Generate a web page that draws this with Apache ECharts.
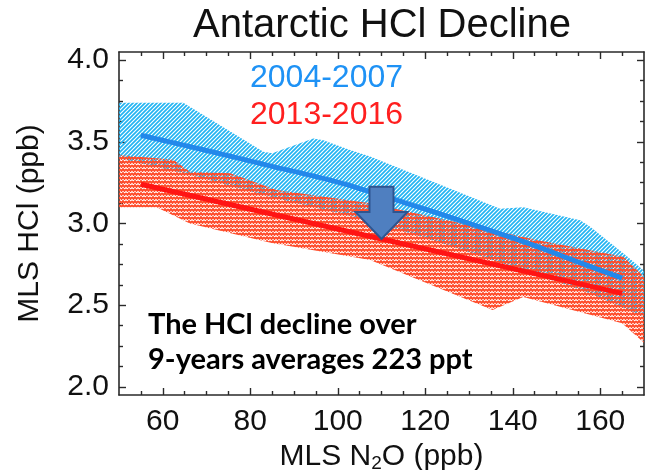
<!DOCTYPE html>
<html><head><meta charset="utf-8">
<script src="https://cdn.jsdelivr.net/npm/echarts@6/dist/echarts.min.js"></script>
<style>html,body{margin:0;padding:0;background:#fff}#c{width:645px;height:470px}</style>
</head><body><div id="c"></div>
<script>
// ---- data ----
const titleText = 'Antarctic HCl Decline';
const seriesNames = ['2004-2007', '2013-2016'];
const noteLines = ['The HCl decline over', '9-years averages 223 ppt'];
const xTicks = [60, 80, 100, 120, 140, 160];
const xMinorTicks = [55, 65, 70, 75, 85, 90, 95, 105, 110, 115, 125, 130, 135, 145, 150, 155, 165];
const yTicks = [2.0, 2.5, 3.0, 3.5, 4.0];
const yMinorTicks = [2.125, 2.25, 2.375, 2.625, 2.75, 2.875, 3.125, 3.25, 3.375, 3.625, 3.75, 3.875];

// 2004-2007 mean line and range
const blueLineX = [55, 70, 85, 100, 115, 130, 145, 155, 165];
const blueLineY = [3.54, 3.447, 3.35, 3.253, 3.13, 3.001, 2.865, 2.763, 2.665];
const blueUpX = [50, 64.7, 83, 85, 94.4, 96.7, 102.8, 107.4, 137.1, 142.4, 155.4, 157.7, 166.1, 170];
const blueUpY = [3.74, 3.74, 3.44, 3.43, 3.52, 3.51, 3.45, 3.41, 3.09, 3.10, 3.02, 2.98, 2.80, 2.71];
const blueLoX = [50, 66, 85, 107, 126, 156, 170];
const blueLoY = [3.40, 3.30, 3.16, 3.02, 2.86, 2.59, 2.43];

// 2013-2016 mean line and range
const redLineX = [55, 110, 165];
const redLineY = [3.24, 2.905, 2.572];
const redUpX = [50, 62.4, 66.2, 75.4, 86.0, 107.4, 145.5, 165.3, 170];
const redUpY = [3.42, 3.39, 3.317, 3.307, 3.205, 3.124, 2.899, 2.797, 2.674];
const redLoX = [50, 58.6, 66.2, 84.9, 107.4, 135.4, 142.4, 165, 170];
const redLoY = [3.10, 3.10, 3.00, 2.88, 2.776, 2.47, 2.55, 2.39, 2.27];

// decline arrow
const arrowX = [110];
const arrowFrom = [3.225];
const arrowHeadBase = [3.07];
const arrowTo = [2.905];

// ---- patterns ----
function makePattern(kind) {
  const c = document.createElement('canvas');
  const g = c.getContext('2d');
  if (kind === 'blue') {
    c.width = 4; c.height = 4;
    g.strokeStyle = '#22b4f2'; g.lineWidth = 1.7;
    g.beginPath();
    g.moveTo(-1, 5); g.lineTo(5, -1);
    g.moveTo(-1, 1); g.lineTo(1, -1);
    g.moveTo(3, 5); g.lineTo(5, 3);
    g.stroke();
  } else {
    c.width = 6; c.height = 4;
    g.strokeStyle = '#ff4a28'; g.lineWidth = 1.9;
    g.beginPath();
    g.moveTo(0, 1); g.lineTo(1.5, 3); g.lineTo(3, 1); g.lineTo(4.5, 3); g.lineTo(6, 1);
    g.stroke();
  }
  return {image: c, repeat: 'repeat'};
}
const bluePat = makePattern('blue');
const redPat = makePattern('red');

function zip(a, b) { return a.map((v, i) => [v, b[i]]); }

function band(name, ux, uy, lx, ly, pat, z) {
  return {
    type: 'custom', name: name, z: z, clip: true, silent: true,
    xAxisIndex: 0, yAxisIndex: 0,
    data: [[ux[0], uy[0]]],
    renderItem: function (params, api) {
      const pts = [];
      for (let i = 0; i < ux.length; i++) pts.push(api.coord([ux[i], uy[i]]));
      for (let i = lx.length - 1; i >= 0; i--) pts.push(api.coord([lx[i], ly[i]]));
      return {type: 'polygon', shape: {points: pts}, style: {fill: pat, stroke: null}};
    }
  };
}

const axisCol = '#2a2a2a';
const font = 'Liberation Sans, Arial, sans-serif';
function xAx(pos, ticks, len, main) {
  return {
    type: 'value', position: pos, min: 50, max: 170, gridIndex: 0,
    axisLine: {show: main, onZero: false, lineStyle: {color: axisCol, width: 1.6}},
    axisTick: {show: true, inside: true, length: len, customValues: ticks, lineStyle: {color: axisCol, width: 1.4}},
    axisLabel: {show: main && pos === 'bottom', customValues: xTicks, fontFamily: font, fontSize: 30, color: '#111', margin: 12},
    splitLine: {show: false}
  };
}
function yAx(pos, ticks, len, main) {
  return {
    type: 'value', position: pos, min: 1.95, max: 4.05, gridIndex: 0,
    axisLine: {show: main, onZero: false, lineStyle: {color: axisCol, width: 1.6}},
    axisTick: {show: true, inside: true, length: len, customValues: ticks, lineStyle: {color: axisCol, width: 1.4}},
    axisLabel: {show: main && pos === 'left', customValues: yTicks, fontFamily: font, fontSize: 30, color: '#111', margin: 10,
      formatter: v => v.toFixed(1)},
    splitLine: {show: false}
  };
}

const xAxes = [xAx('bottom', xTicks, 7, true), xAx('bottom', xMinorTicks, 4, false), xAx('top', xTicks, 7, true), xAx('top', xMinorTicks, 4, false)];
xAxes[0].name = '{a|MLS N}{s|2}{a|O (ppb)}';
xAxes[0].nameLocation = 'middle';
xAxes[0].nameGap = 42;
xAxes[0].nameTextStyle = {rich: {a: {fontFamily: font, fontSize: 30, color: '#111'}, s: {fontFamily: font, fontSize: 19, color: '#111', padding: [14, 0, 0, 0]}}};
const yAxes = [yAx('left', yTicks, 7, true), yAx('left', yMinorTicks, 4, false), yAx('right', yTicks, 7, true), yAx('right', yMinorTicks, 4, false)];
yAxes[0].name = 'MLS HCl (ppb)';
yAxes[0].nameLocation = 'middle';
yAxes[0].nameRotate = 90;
yAxes[0].nameGap = 74;
yAxes[0].nameTextStyle = {fontFamily: font, fontSize: 30, color: '#111'};

const chart = echarts.init(document.getElementById('c'), null, {renderer: 'canvas'});
chart.setOption({
  animation: false,
  backgroundColor: '#fff',
  grid: {left: 119, right: 1, top: 52, bottom: 75, containLabel: false, outerBoundsMode: 'none'},
  xAxis: xAxes,
  yAxis: yAxes,
  graphic: [
    {type: 'text', x: 382, y: 26, style: {text: titleText, font: '40px ' + font, fill: '#111', textAlign: 'center', textVerticalAlign: 'middle'}},
    {type: 'text', x: 250, y: 78, z: 10, style: {text: seriesNames[0], font: '32px ' + font, fill: '#1e92f5', textAlign: 'left', textVerticalAlign: 'middle'}},
    {type: 'text', x: 250, y: 115, z: 10, style: {text: seriesNames[1], font: '32px ' + font, fill: '#ff1f1f', textAlign: 'left', textVerticalAlign: 'middle'}},
    {type: 'text', x: 148, y: 325, z: 10, style: {text: noteLines[0], font: 'bold 29px Lato, sans-serif', fill: '#000', textAlign: 'left', textVerticalAlign: 'middle'}},
    {type: 'text', x: 148, y: 360, z: 10, style: {text: noteLines[1], font: 'bold 29px Lato, sans-serif', fill: '#000', textAlign: 'left', textVerticalAlign: 'middle'}}
  ],
  series: [
    band(seriesNames[0] + ' range', blueUpX, blueUpY, blueLoX, blueLoY, bluePat, 1),
    band(seriesNames[1] + ' range', redUpX, redUpY, redLoX, redLoY, redPat, 2),
    {type: 'line', name: seriesNames[0], z: 3, data: zip(blueLineX, blueLineY), showSymbol: false, smooth: 0.3,
      lineStyle: {color: '#2388ea', width: 5}, silent: true},
    {type: 'line', name: seriesNames[1], z: 4, data: zip(redLineX, redLineY), showSymbol: false,
      lineStyle: {color: '#ff1414', width: 5}, silent: true},
    {type: 'custom', name: 'decline', z: 5, silent: true,
      data: [[arrowX[0], arrowFrom[0], arrowHeadBase[0], arrowTo[0]]],
      renderItem: function (params, api) {
        const x = api.value(0);
        const top = api.coord([x, api.value(1)]);
        const base = api.coord([x, api.value(2)]);
        const tip = api.coord([x, api.value(3)]);
        const sw = 12, hw = 26;
        const pts = [[top[0] - sw, top[1]], [top[0] + sw, top[1]], [top[0] + sw, base[1]], [top[0] + hw, base[1]],
          [tip[0], tip[1]], [top[0] - hw, base[1]], [top[0] - sw, base[1]]];
        return {type: 'polygon', shape: {points: pts}, style: {fill: '#4f7fc0', stroke: '#2f558f', lineWidth: 2}};
      }}
  ]
});
</script>
</body></html>
